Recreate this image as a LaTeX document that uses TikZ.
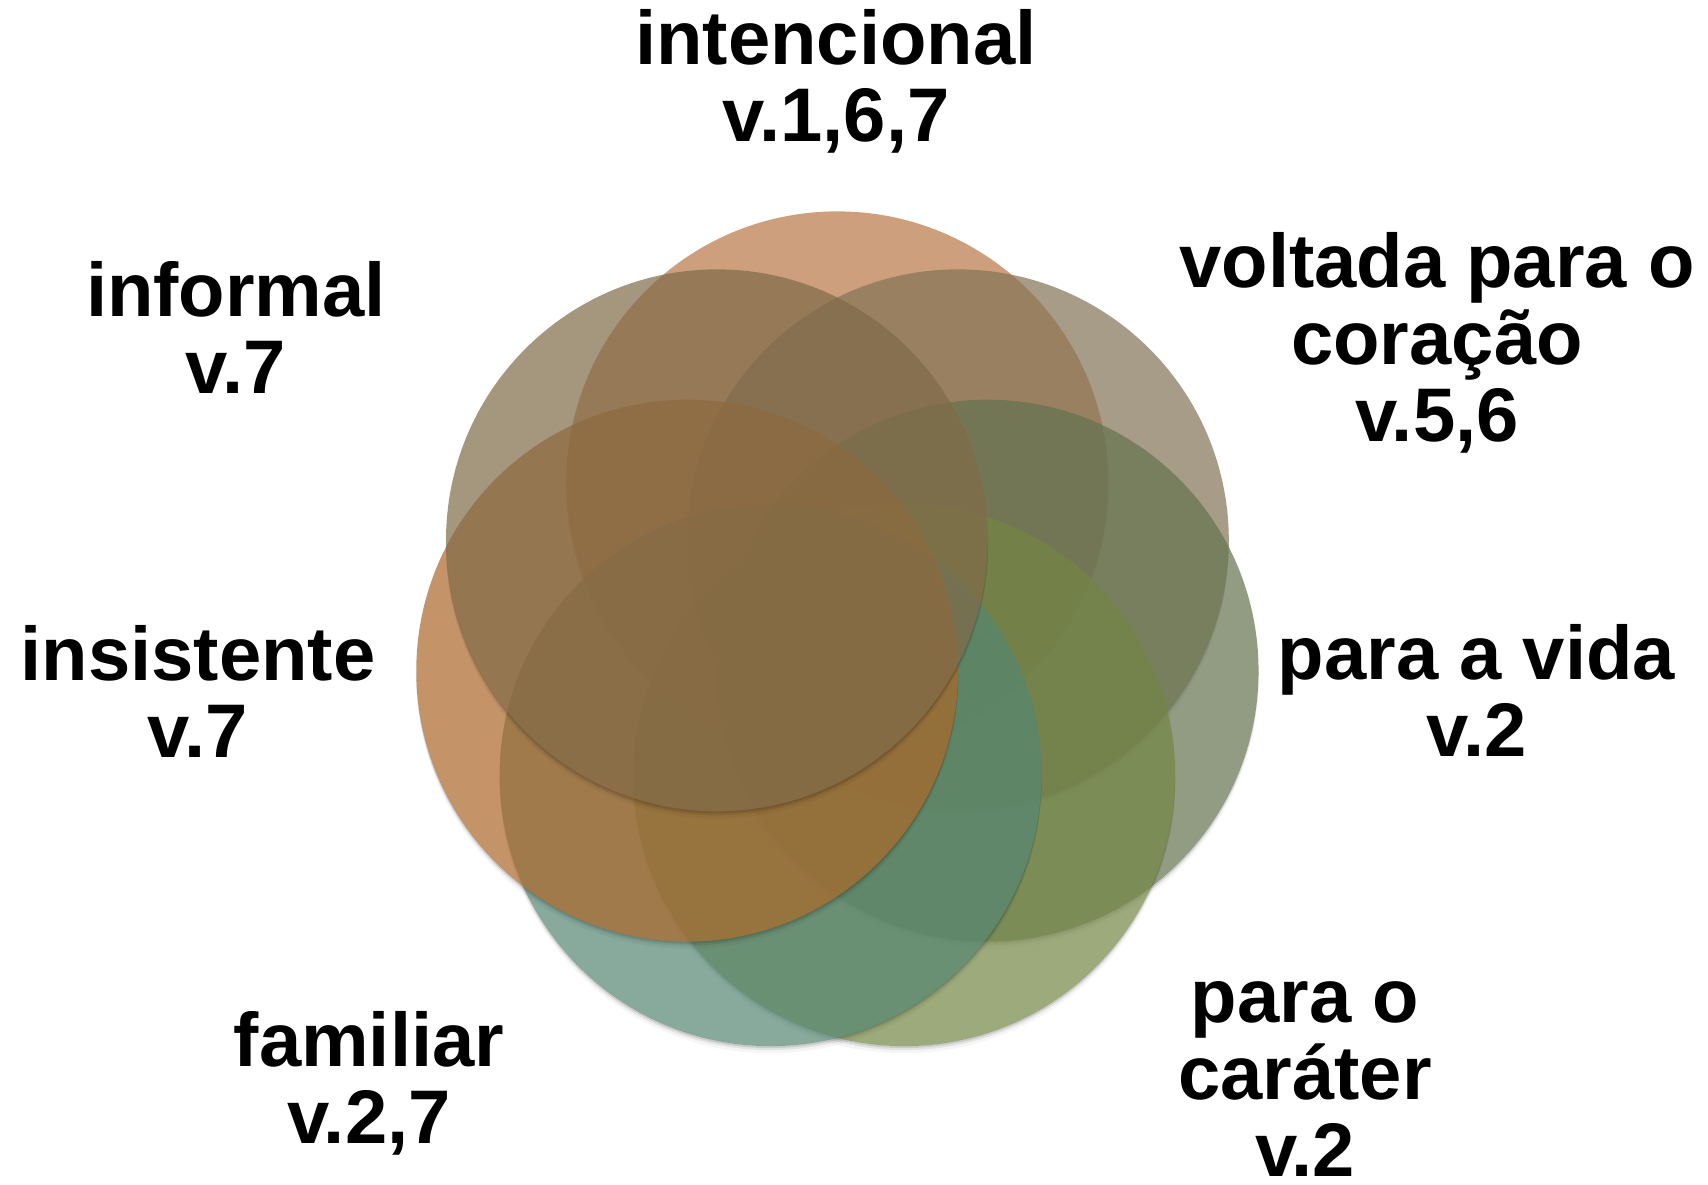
\documentclass[tikz,border=0pt]{standalone}
\usepackage{fontspec}
\setmainfont{Liberation Sans}
\usetikzlibrary{calc}
\definecolor{cA}{RGB}{184,119,69}
\definecolor{cB}{RGB}{131,115,86}
\definecolor{cC}{RGB}{99,115,79}
\definecolor{cD}{RGB}{116,134,68}
\definecolor{cE}{RGB}{85,134,114}
\definecolor{cF}{RGB}{171,103,40}
\definecolor{cG}{RGB}{128,106,72}
\tikzset{
  venn/.style={circle, minimum size=542*0.5pt, inner sep=0pt, fill opacity=0.7, draw=none},
  lbl/.style={anchor=base, align=center, text=black, inner sep=0pt,
    font=\bfseries\fontsize{38}{38.5}\selectfont}
}
\begin{document}
\begin{tikzpicture}[x=0.5pt,y=0.5pt]
\useasboundingbox (0,0) rectangle (1708,1184);
\fill[white] (0,0) rectangle (1708,1184);
\coordinate (ctr) at (837.4,547.6);
\foreach \i/\col in {0/cA,1/cB,2/cC,3/cD,4/cE,5/cF,6/cG}{
  \pgfmathsetmacro\ang{90-\i*360/7}
  \node[venn, fill=\col] (v\i) at ($(ctr)+(\ang:154)$) {};
  \foreach \d/\op in {2/0.10,4/0.07,7/0.04}{
    \pgfmathsetmacro\al{asin(\d/542)}
    \fill[black, opacity=\op] (v\i.center) ++(-\al:271)
      arc[start angle=-\al, end angle=-180+\al, radius=271]
      arc[start angle=180-\al, end angle=360+\al, radius=271] -- cycle;
  }
}
% base anchor = baseline of the last line
\node[lbl] (t1) at (836,1042.3) {intencional\\v.1,6,7};
\node[lbl] (t2) at (1437,742) {voltada para o\\coração\\v.5,6};
\node[lbl] (t3) at (1476.5,427.3) {para a vida\\v.2};
\node[lbl] (t4) at (1305,8) {para o\\caráter\\v.2};
\node[lbl] (t5) at (369,41) {familiar\\v.2,7};
\node[lbl] (t6) at (198,426.3) {insistente\\v.7};
\node[lbl] (t7) at (236,790) {informal\\v.7};
\end{tikzpicture}
\end{document}
